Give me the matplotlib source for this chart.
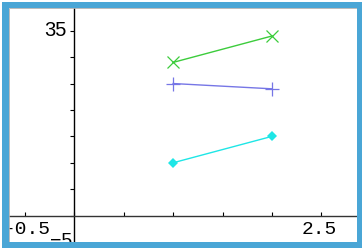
import matplotlib
matplotlib.use("Agg")
import matplotlib.pyplot as plt
from matplotlib.patches import Rectangle

# Data
x_vals = [1, 2]
green_y = [29, 34]
blue_y = [25, 24]
cyan_y = [10, 15]

x_min, x_max = -0.66, 2.86
y_min, y_max = -5, 39.3
y_ticks = [0, 5, 10, 15, 20, 25, 30, 35]
x_ticks = [-0.5, 0, 0.5, 1, 1.5, 2, 2.5]

W, H = 364, 248
fig = plt.figure(figsize=(W / 100, H / 100), dpi=100)
fig.patch.set_facecolor("white")

# axes area in pixels
L, R, T, B = 9, 357, 8, 242
ax = fig.add_axes([L / W, 1 - B / H, (R - L) / W, (B - T) / H])
ax.set_xlim(x_min, x_max)
ax.set_ylim(y_min, y_max)
ax.set_facecolor("white")

for s in ["top", "right"]:
    ax.spines[s].set_visible(False)
ax.spines["left"].set_position(("data", 0))
ax.spines["bottom"].set_position(("data", 0))
ax.spines["left"].set_linewidth(1.0)
ax.spines["bottom"].set_linewidth(1.0)
ax.spines["left"].set_color("black")
ax.spines["bottom"].set_color("#333333")

ax.set_yticks(y_ticks)
ax.set_xticks(x_ticks)
ax.set_yticklabels([])
ax.set_xticklabels([])
ax.tick_params(axis="y", direction="out", length=3, width=0.8)
ax.tick_params(axis="x", direction="in", length=3, width=0.8)

ax.plot(x_vals, green_y, color="#3ccc3c", lw=1.0, marker="x", ms=9, mew=0.9)
ax.plot(x_vals, blue_y, color="#7676e6", lw=1.0, marker="+", ms=10, mew=0.9)
ax.plot(x_vals, cyan_y, color="#1ee6e6", lw=1.0, marker="D", ms=5, mew=0)

# Labels (in figure pixel coordinates)
def px(x, y):
    return x / W, 1 - y / H

fig.text(*px(67, 30), "35", ha="right", va="center", fontsize=14.5,
         family="Liberation Sans")
fig.text(*px(4, 230), "-0.5", ha="left", va="center", fontsize=14,
         family="Liberation Mono")
fig.text(*px(337, 230), "2.5", ha="right", va="center", fontsize=14,
         family="Liberation Mono")
fig.text(*px(72, 233), "\u22125", ha="right", va="top", fontsize=14,
         family="Liberation Sans")

# Border frame
blue = "#4aa6d6"
for (x0, y0, w, h) in [(2, 2, 360, 6), (2, 242, 360, 6), (2, 2, 7, 246), (357, 2, 5, 246)]:
    fig.patches.append(Rectangle((x0 / W, 1 - (y0 + h) / H), w / W, h / H,
                                 transform=fig.transFigure, facecolor=blue,
                                 edgecolor="none", zorder=10))
fig.patches.append(Rectangle((L / W, 1 - B / H), (R - L) / W, (B - T) / H,
                             transform=fig.transFigure, facecolor="none",
                             edgecolor="#b0b0b0", lw=0.6, zorder=9))

fig.savefig("out.png", dpi=100)
